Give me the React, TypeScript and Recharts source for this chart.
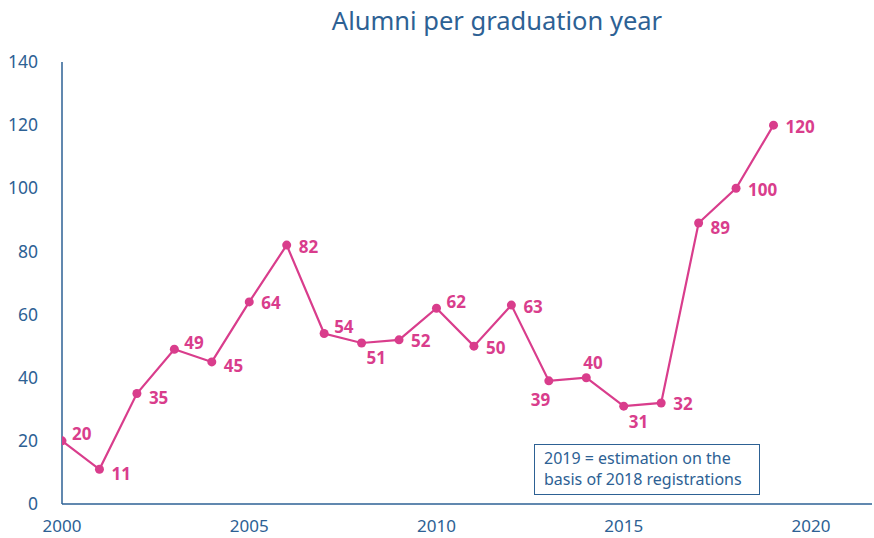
import { LineChart, Line, XAxis, YAxis, LabelList } from "recharts";

const years = [
  2000, 2001, 2002, 2003, 2004, 2005, 2006, 2007, 2008, 2009,
  2010, 2011, 2012, 2013, 2014, 2015, 2016, 2017, 2018, 2019,
];
const alumni = [20, 11, 35, 49, 45, 64, 82, 54, 51, 52, 62, 50, 63, 39, 40, 31, 32, 89, 100, 120];
const xTicks = [2000, 2005, 2010, 2015, 2020];
const yTicks = [0, 20, 40, 60, 80, 100, 120, 140];

// where each value label sits relative to its point
const labelPlace = [
  "ra", "rb", "rb", "ra", "rb", "r", "r", "ra", "b", "r",
  "ra", "r", "r", "lb", "a", "b", "r", "rb", "r", "r",
];

const BLUE = "#2d6194";
const PINK = "#d93d8c";
const FONT = "'Noto Sans', sans-serif";

const OFFSETS: Record<string, [number, number]> = {
  r: [12, 1],
  ra: [10, -7],
  rb: [12, 4],
  a: [-3, -15],
  b: [5, 15],
  lb: [-18, 19],
};

const data = years.map((year, i) => ({ year, alumni: alumni[i] }));

function ValueLabel(props: any) {
  const { x, y, value, index } = props;
  const [dx, dy] = OFFSETS[labelPlace[index]] ?? [12, 0];
  return (
    <text
      x={x + dx}
      y={y + dy}
      fill={PINK}
      fontSize={17}
      fontWeight={700}
      fontFamily={FONT}
      textAnchor="start"
      dominantBaseline="central"
    >
      {value}
    </text>
  );
}

export default function App() {
  return (
    <div style={{ position: "absolute", left: 0, top: 0, width: 874, height: 538, background: "#fff", fontFamily: FONT }}>
      <div
        style={{
          position: "absolute",
          left: 300,
          width: 394,
          top: 3,
          textAlign: "center",
          fontSize: 25.5,
          color: BLUE,
        }}
      >
        Alumni per graduation year
      </div>
      <LineChart
        width={874}
        height={538}
        data={data}
        margin={{ top: 62, right: 2, bottom: 0, left: 0 }}
      >
        <XAxis
          dataKey="year"
          type="number"
          domain={[2000, 2021.63]}
          ticks={xTicks}
          allowDataOverflow
          height={34}
          tickLine={false}
          tickSize={6}
          tickMargin={10}
          axisLine={{ stroke: BLUE, strokeWidth: 1.5 }}
          tick={{ fill: BLUE, fontSize: 17, fontFamily: FONT }}
        />
        <YAxis
          domain={[0, 140]}
          ticks={yTicks}
          width={62}
          tickLine={false}
          tickSize={6}
          tickMargin={18}
          axisLine={{ stroke: BLUE, strokeWidth: 1.5 }}
          tick={{ fill: BLUE, fontSize: 17.5, fontFamily: FONT }}
        />
        <Line
          dataKey="alumni"
          stroke={PINK}
          strokeWidth={2.2}
          dot={{ r: 4.5, fill: PINK, stroke: PINK, strokeWidth: 0 }}
          isAnimationActive={false}
        >
          <LabelList dataKey="alumni" content={<ValueLabel />} />
        </Line>
      </LineChart>
      <div
        style={{
          position: "absolute",
          left: 534,
          top: 444,
          width: 226,
          height: 51,
          boxSizing: "border-box",
          border: `1px solid ${BLUE}`,
          padding: "3px 0 0 9px",
          fontSize: 16,
          lineHeight: "21px",
          color: BLUE,
          background: "#fff",
          whiteSpace: "nowrap",
        }}
      >
        2019 = estimation on the
        <br />
        basis of 2018 registrations
      </div>
    </div>
  );
}
